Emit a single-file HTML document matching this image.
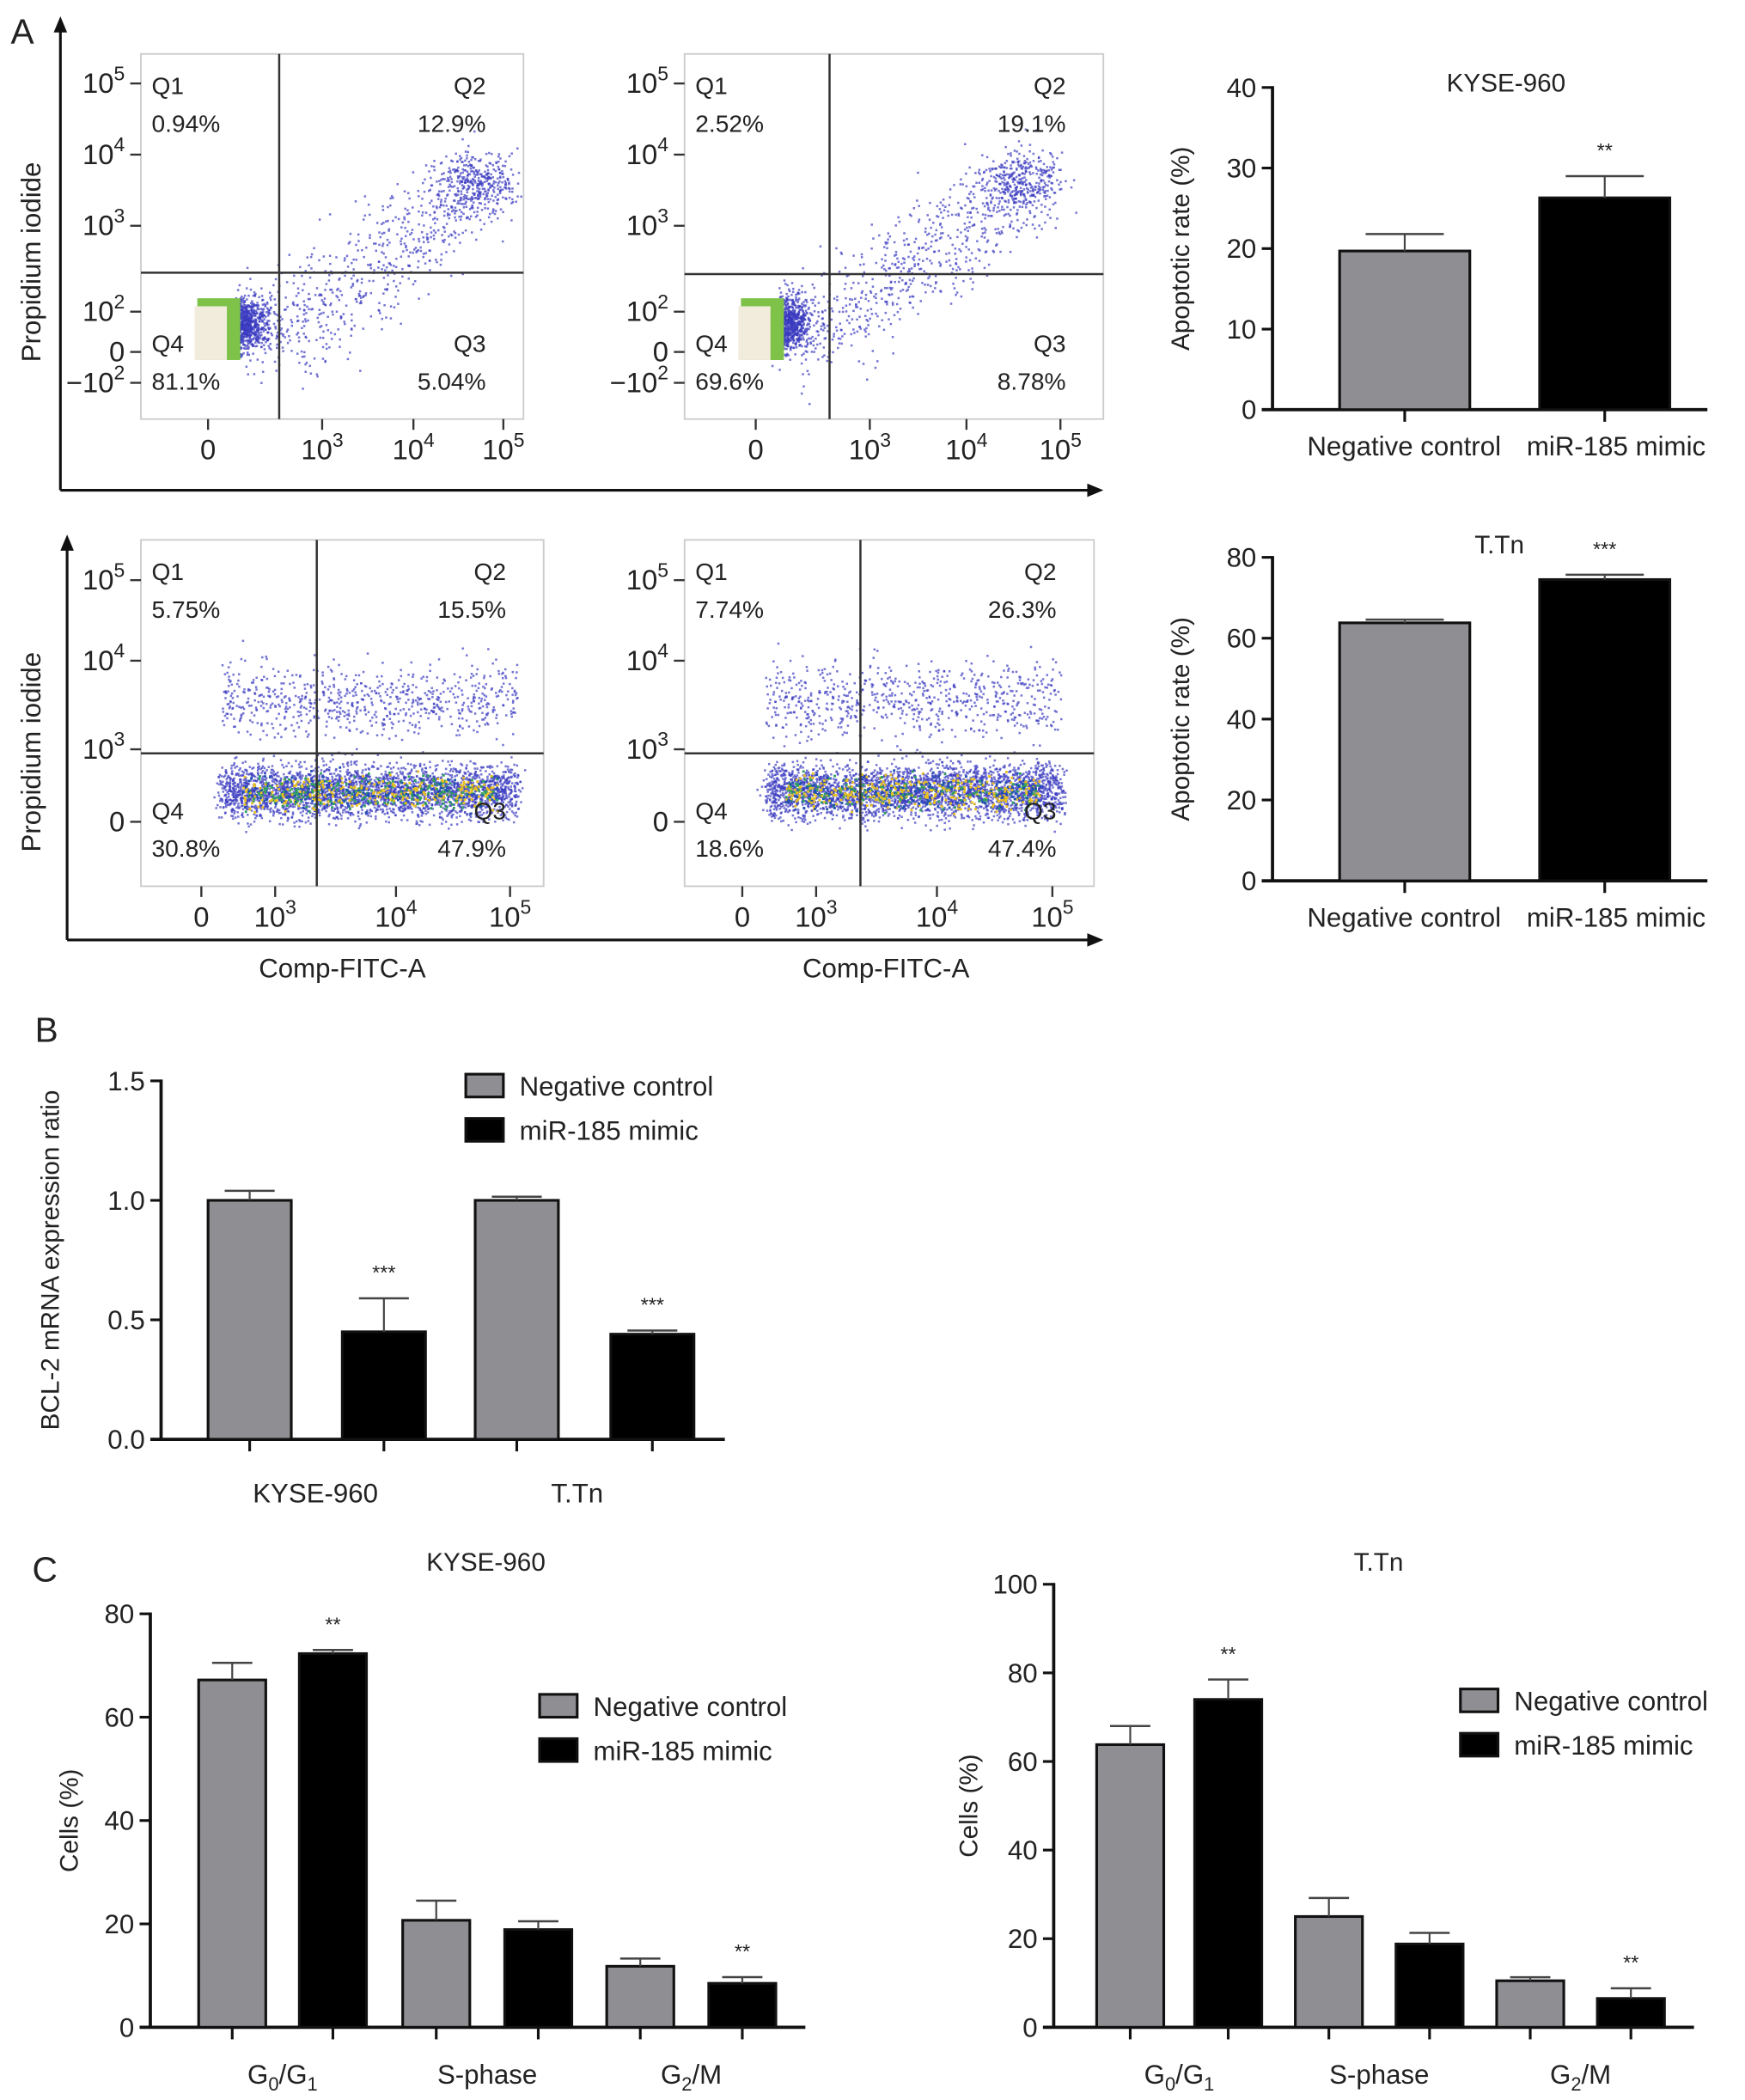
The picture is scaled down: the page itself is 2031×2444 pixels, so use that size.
<!DOCTYPE html>
<html><head><meta charset="utf-8"><style>
html,body{margin:0;padding:0;background:#fff}
svg{display:block}
text{font-family:"Liberation Sans",sans-serif;fill:#222}
</style></head><body>
<svg id="fig" width="2031" height="2444" viewBox="0 0 1300 1564" xmlns="http://www.w3.org/2000/svg">
<text x="8" y="32" font-size="26">A</text>
<text x="26" y="776" font-size="26">B</text>
<text x="24" y="1178" font-size="26">C</text>
<g id="g"></g>
</svg>
<script>
// ---- data ----
const apoCats = ["Negative control","miR-185 mimic"];
const apoKyse = [19.7, 26.3];
const apoKyseErr = [2.1, 2.7];
const apoTtn = [63.8, 74.5];
const apoTtnErr = [0.8, 1.2];
const apoKyseTicks = [0,10,20,30,40];
const apoTtnTicks = [0,20,40,60,80];
const bclGroups = ["KYSE-960","T.Tn"];
const bclNC = [1.0, 1.0];
const bclNCErr = [0.04, 0.015];
const bclMimic = [0.45, 0.44];
const bclMimicErr = [0.14, 0.015];
const bclTicks = [0.0,0.5,1.0,1.5];
const phases = ["G0/G1","S-phase","G2/M"];
const kyseNC = [67.2, 20.7, 11.8];
const kyseNCErr = [3.3, 3.8, 1.5];
const kyseMimic = [72.3, 18.9, 8.5];
const kyseMimicErr = [0.7, 1.6, 1.2];
const ttnNC = [63.8, 25.0, 10.5];
const ttnNCErr = [4.2, 4.2, 0.8];
const ttnMimic = [74.0, 18.8, 6.5];
const ttnMimicErr = [4.5, 2.5, 2.3];
const kyseCellTicks = [0,20,40,60,80];
const ttnCellTicks = [0,20,40,60,80,100];
const flowQuads = [
 ["0.94%","12.9%","5.04%","81.1%"],
 ["2.52%","19.1%","8.78%","69.6%"],
 ["5.75%","15.5%","47.9%","30.8%"],
 ["7.74%","26.3%","47.4%","18.6%"]];

const NS="http://www.w3.org/2000/svg";
const G=document.getElementById('g');
function mk(tag,attrs,parent,txt){const e=document.createElementNS(NS,tag);for(const k in attrs)e.setAttribute(k,attrs[k]);if(txt!==undefined)e.textContent=txt;(parent||G).appendChild(e);return e;}
function line(x1,y1,x2,y2,w,c,p){return mk('line',{x1,y1,x2,y2,stroke:c||'#111','stroke-width':w||2},p);}
function txt(x,y,s,size,anchor,p){return mk('text',{x,y,'font-size':size||18,'text-anchor':anchor||'middle'},p,s);}
function powTxt(x,y,base,exp,size,anchor,p){
  const t=mk('text',{x,y,'font-size':size,'text-anchor':anchor},p);
  mk('tspan',{},t,base);
  if(exp!==null)mk('tspan',{'font-size':size*0.7,dy:-size*0.45},t,exp);
  return t;
}

// ---- flow panels ----
let seed=7;function rnd(){seed=(seed*16807)%2147483647;return seed/2147483647;}
function gauss(){return (rnd()+rnd()+rnd()+rnd()-2)/1.15;}
function arrowH(x1,x2,y){line(x1,y,x2-10,y,2);mk('path',{d:`M${x2} ${y} L${x2-12} ${y-5} L${x2-12} ${y+5}Z`,fill:'#111'});}
function arrowV(x,y1,y2){line(x,y1+10,x,y2,2);mk('path',{d:`M${x} ${y1} L${x-5} ${y1+12} L${x+5} ${y1+12}Z`,fill:'#111'});}
arrowV(45,12,365);arrowH(45,822,365);
arrowV(50,398,700);arrowH(50,822,700);

function flow(i,x0,y0,x1,y1,qx,qy,yt,xt,top){
  const g=mk('g',{});
  
  
  mk('rect',{x:x0,y:y0,width:x1-x0,height:y1-y0,fill:'none',stroke:'#ccc','stroke-width':1.2},g);
  const dots=mk('g',{},g);
  const n=top?1700:3600;
  for(let k=0;k<n;k++){
    let x,y,c='#3a3ac0';
    if(top){
      const r=rnd();
      if(r<0.42){x=x0+70+Math.abs(gauss())*22;y=y0+200+gauss()*20;}
      else if(r<0.62){x=x0+225+gauss()*30+25;y=y0+95+gauss()*22;}
      else{const t=rnd();x=x0+90+t*170+gauss()*35;y=y0+215-t*120+gauss()*38;}
    } else {
      const r=rnd();
      if(r<0.8){x=x0+60+rnd()*220+gauss()*6;y=qy+28+gauss()*20;}
      else{x=x0+60+rnd()*220;y=qy-40+gauss()*28;}
    }
    if(x<x0+2||x>x1-2||y<y0+2||y>y1-2)continue;
    mk('rect',{x:x.toFixed(1),y:y.toFixed(1),width:1.6,height:1.6,fill:c,opacity:0.7},dots);
  }
  if(top){
    mk('rect',{x:x0+42,y:y0+182,width:32,height:46,fill:'#7fc24a'},dots);
    mk('rect',{x:x0+40,y:y0+188,width:24,height:40,fill:'#f2ecdc'},dots);
  } else {
    for(let k=0;k<700;k++){const x=x0+75+rnd()*190,y=qy+28+gauss()*12;mk('rect',{x:x.toFixed(1),y:y.toFixed(1),width:1.8,height:1.8,fill:rnd()<0.45?'#e8c020':(rnd()<0.5?'#30a060':'#2050b0')},dots);}
  }
  line(qx,y0,qx,y1,1.6,'#333',g);line(x0,qy,x1,qy,1.6,'#333',g);
  const q=flowQuads[i];
  txt(x0+8,y0+30,'Q1',18,'start',g);txt(x0+8,y0+58,q[0],18,'start',g);
  txt(x1-28,y0+30,'Q2',18,'end',g);txt(x1-28,y0+58,q[1],18,'end',g);
  txt(x1-28,y1-50,'Q3',18,'end',g);txt(x1-28,y1-22,q[2],18,'end',g);
  txt(x0+8,y1-50,'Q4',18,'start',g);txt(x0+8,y1-22,q[3],18,'start',g);
  yt.forEach(t=>{powTxt(x0-12,t[2]+7,t[0],t[1],21,'end',g);line(x0-8,t[2],x0,t[2],1.5,'#333',g);});
  xt.forEach(t=>{powTxt(t[2],y1+30,t[0],t[1],21,'middle',g);line(t[2],y1,t[2],y1+8,1.5,'#333',g);});
}
const ytTop=[['10','5',62],['10','4',115],['10','3',168],['10','2',232],['0',null,262],['−10','2',285]];
const ytBot=[['10','5',432],['10','4',492],['10','3',558],['0',null,612]];
flow(0,105,40,390,312,208,203,ytTop,[['0',null,155],['10','3',240],['10','4',308],['10','5',375]],true);
flow(1,510,40,822,312,618,204,ytTop,[['0',null,563],['10','3',648],['10','4',720],['10','5',790]],true);
flow(2,105,402,405,660,236,561,ytBot,[['0',null,150],['10','3',205],['10','4',295],['10','5',380]],false);
flow(3,510,402,815,660,641,561,ytBot,[['0',null,553],['10','3',608],['10','4',698],['10','5',784]],false);
[[30,195],[30,560]].forEach(p=>{const t=txt(p[0],p[1],'Propidium iodide',20);t.setAttribute('transform',`rotate(-90 ${p[0]} ${p[1]})`);});
txt(255,728,'Comp-FITC-A',20);txt(660,728,'Comp-FITC-A',20);

// ---- generic bar chart ----
function barChart(o){
  const g=mk('g',{});
  
  
  const Y=v=>o.y0-(v-o.min)/(o.max-o.min)*(o.y0-o.y1);
  line(o.ax,o.y1-1,o.ax,o.y0,2.4,'#111',g);line(o.ax-8,o.y0,o.xend,o.y0,2.4,'#111',g);
  o.ticks.forEach(t=>{line(o.ax-8,Y(t),o.ax,Y(t),2,'#111',g);txt(o.ax-12,Y(t)+7,o.fmt?o.fmt(t):String(t),20,'end',g);});
  o.bars.forEach(b=>{
    const top=Y(b.v);
    const r=mk('rect',{x:b.x,y:top,width:b.w,height:o.y0-top,fill:b.c,stroke:'#111','stroke-width':2},g);
    
    
    const cx=b.x+b.w/2,et=Y(b.v+b.e);
    line(cx,top,cx,et,1.4,'#444',g);line(cx-b.w*0.3,et,cx+b.w*0.3,et,1.6,'#444',g);
    line(cx,o.y0,cx,o.y0+9,2,'#111',g);
    if(b.s)txt(cx,et-(o.sg||14),b.s,15,'middle',g);
  });
  if(o.ylabel){const t=txt(o.lx,(o.y0+o.y1)/2,o.ylabel,19);t.setAttribute('transform',`rotate(-90 ${o.lx} ${(o.y0+o.y1)/2})`);}
  if(o.title)txt(o.title[1],o.title[2],o.title[0],19,'middle',g);
  return g;
}
const GRAY='#8e8e93',BLK='#000';
function apo(name,vals,errs,ticks,max,y0,y1,title,ty,stars){
  const xs=[998,1147];
  barChart({name,ax:948,xend:1272,y0,y1,min:0,max,ticks,ylabel:'Apoptotic rate (%)',lx:886,title:[title,ty[0],ty[1]],
    bars:vals.map((v,i)=>({x:xs[i],w:97,v,e:errs[i],c:i?BLK:GRAY,s:i?stars:null}))});
  apoCats.forEach((c,i)=>txt(i?1204:1046,y0+34,c,20));
}
apo('apoptosis-kyse960-chart',apoKyse,apoKyseErr,apoKyseTicks,40,305,65,'KYSE-960',[1122,68],'**');
apo('apoptosis-ttn-chart',apoTtn,apoTtnErr,apoTtnTicks,80,656,415,'T.Tn',[1117,412],'***');

// BCL-2
const bx=[[155,255],[354,455]];
let bbars=[];
bclGroups.forEach((gname,i)=>{bbars.push({x:bx[i][0],w:62,v:bclNC[i],e:bclNCErr[i],c:GRAY});bbars.push({x:bx[i][1],w:62,v:bclMimic[i],e:bclMimicErr[i],c:BLK,s:'***',sg:8});});
barChart({name:'bcl2-expression-chart',ax:120,xend:540,y0:1072,y1:805,min:0,max:1.5,ticks:bclTicks,fmt:t=>t.toFixed(1),ylabel:'BCL-2 mRNA expression ratio',lx:44,bars:bbars});
txt(235,1119,bclGroups[0],20);txt(430,1119,bclGroups[1],20);
function legend(x,y){
  const g=mk('g',{});
  
  
  mk('rect',{x,y,width:28,height:17,fill:GRAY,stroke:'#111','stroke-width':2},g);
  txt(x+40,y+16,'Negative control',20,'start',g);
  mk('rect',{x,y:y+33,width:28,height:17,fill:BLK,stroke:'#111','stroke-width':2},g);
  txt(x+40,y+49,'miR-185 mimic',20,'start',g);
}
legend(347,800);

// cell cycle
function cycle(name,nc,ncE,mi,miE,ticks,max,ax,xend,y1,xsNC,xsMi,w,title,tx,lx,lgx,lgy){
  let bars=[];
  phases.forEach((p,i)=>{bars.push({x:xsNC[i],w,v:nc[i],e:ncE[i],c:GRAY});bars.push({x:xsMi[i],w,v:mi[i],e:miE[i],c:BLK,s:(i!==1)?'**':null,sg:10});});
  barChart({name,ax,xend,y0:1510,y1,min:0,max,ticks,ylabel:'Cells (%)',lx,title:[title,tx,1170],bars});
  const labels=[['G','0','/G','1'],['S-phase'],['G','2','/M']];
  phases.forEach((p,i)=>{
    const cx=(xsNC[i]+xsMi[i]+w)/2;
    const t=mk('text',{x:cx,y:1552,'font-size':20,'text-anchor':'middle'});
    labels[i].forEach((s,j)=>{mk('tspan',(s==='0'||s==='1'||s==='2')?{'font-size':14,dy:5}:{dy:(j>0&&['0','1','2'].includes(labels[i][j-1]))?-5:0},t,s);});
  });
  legend(lgx,lgy);
}
cycle('cell-cycle-kyse960-chart',kyseNC,kyseNCErr,kyseMimic,kyseMimicErr,kyseCellTicks,80,112,600,1202,[148,300,452],[223,376,528],50,'KYSE-960',362,58,402,1262);
cycle('cell-cycle-ttn-chart',ttnNC,ttnNCErr,ttnMimic,ttnMimicErr,ttnCellTicks,100,785,1262,1180,[817,965,1115],[890,1040,1190],50,'T.Tn',1027,728,1088,1258);
</script>
</body></html>
